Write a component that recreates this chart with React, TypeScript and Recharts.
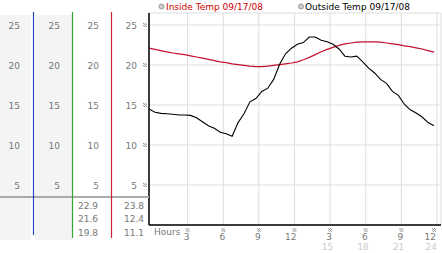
import { LineChart, Line, XAxis, YAxis, CartesianGrid } from 'recharts';

// readings every half hour, first one a bit before midnight
const hours = [
  -0.25, 0.25, 0.75, 1.25, 1.75, 2.25, 2.75, 3.25, 3.75, 4.25, 4.75, 5.25, 5.75, 6.25, 6.75, 7.25, 7.75,
  8.25, 8.75, 9.25, 9.75, 10.25, 10.75, 11.25, 11.75, 12.25, 12.75, 13.25, 13.75, 14.25, 14.75, 15.25,
  15.75, 16.25, 16.75, 17.25, 17.75, 18.25, 18.75, 19.25, 19.75, 20.25, 20.75, 21.25, 21.75, 22.25,
  22.75, 23.25, 23.75,
];
const outsideTemps = [
  14.5, 14.1, 13.95, 13.9, 13.85, 13.75, 13.75, 13.7, 13.4, 12.9, 12.4, 12.1, 11.6, 11.4, 11.1, 12.8, 13.9,
  15.4, 15.8, 16.7, 17.1, 18.2, 20.1, 21.4, 22.1, 22.6, 22.8, 23.5, 23.5, 23.1, 22.9, 22.6,
  22.0, 21.1, 21.0, 21.1, 20.4, 19.6, 19.0, 18.2, 17.7, 16.7, 16.2, 15.1, 14.4, 14.0,
  13.5, 12.8, 12.4,
];
const insideTemps = [
  22.1, 21.95, 21.8, 21.65, 21.5, 21.4, 21.3, 21.15, 21.0, 20.85, 20.7, 20.55, 20.4, 20.3, 20.15, 20.05, 19.95,
  19.85, 19.8, 19.8, 19.85, 19.95, 20.05, 20.15, 20.25, 20.4, 20.65, 20.95, 21.3, 21.65, 21.95, 22.2,
  22.45, 22.65, 22.75, 22.85, 22.9, 22.9, 22.9, 22.85, 22.75, 22.65, 22.55, 22.4, 22.3, 22.15,
  22.0, 21.8, 21.6,
];

const tempTicks = [5, 10, 15, 20, 25];
const hourTicks = [3, 6, 9, 12, 15, 18, 21, 24];
const insideSummary = ['22.9', '21.6', '19.8'];
const outsideSummary = ['23.8', '12.4', '11.1'];
const insideName = 'Inside Temp 09/17/08';
const outsideName = 'Outside Temp 09/17/08';

const data = hours.map((h, i) => ({ h, inside: insideTemps[i], outside: outsideTemps[i] }));

const FONT = 'DejaVu Sans';
const GREY = '#777';
const TEMP_DOMAIN = [0, 26.5];

function Mark({ x, y }: { x: number; y: number }) {
  const dots = [];
  for (let i = 0; i < 4; i++) {
    for (let j = 0; j < 4; j++) {
      if ((i + j) % 2 === 0) dots.push(<rect key={i + '-' + j} x={x + i} y={y + j} width={1} height={1} fill="#999" />);
    }
  }
  return <g>{dots}</g>;
}

const tempTick = (withMark: boolean) => (props: any) => {
  const { x, y, payload } = props;
  return (
    <g>
      <text x={x} y={y} dy={3.5} textAnchor="end" fontFamily={FONT} fontSize={9} fill={GREY}>
        {payload.value}
      </text>
      {withMark && <Mark x={x + 6} y={y - 2} />}
    </g>
  );
};

const hourTick = (props: any) => {
  const { x, y, payload } = props;
  const h = payload.value;
  const clock = h > 12 ? h - 12 : h;
  return (
    <g>
      <Mark x={x - 2} y={y + 3} />
      <text x={x + 2} y={y + 15} textAnchor="end" fontFamily={FONT} fontSize={9} fill={GREY}>
        {clock}
      </text>
      {h > 12 && (
        <text x={x + 3} y={y + 25} textAnchor="end" fontFamily={FONT} fontSize={9} fill="#ccc">
          {h}
        </text>
      )}
    </g>
  );
};

// y axes are laid out by id: "a" sits next to the plot, "d" is the outermost column
export default function App() {
  return (
    <div style={{ position: 'absolute', left: 0, top: 0, width: 442, height: 253, background: '#fff' }}>
      <svg width={442} height={253} style={{ position: 'absolute', left: 0, top: 0 }}>
        <rect x={0} y={15} width={31} height={225} fill="#f4f4f4" />
        <rect x={35} y={15} width={37} height={225} fill="#f4f4f4" />
      </svg>
      <div style={{ position: 'absolute', left: 0, top: 0 }}>
        <LineChart width={442} height={253} data={data} margin={{ top: 13, right: 1, bottom: 0, left: 0 }}>
          <XAxis
            dataKey="h"
            type="number"
            domain={[-0.25, 24.34]}
            ticks={hourTicks}
            height={28}
            tickSize={0}
            tickMargin={0}
            tick={hourTick}
            axisLine={{ stroke: '#000', strokeWidth: 1.5 }}
            allowDataOverflow
          />
          <YAxis yAxisId="a" width={38} domain={TEMP_DOMAIN} ticks={tempTicks} tickSize={0} tickMargin={12} tickLine={false} tick={tempTick(true)} axisLine={{ stroke: '#000', strokeWidth: 1.5 }} />
          <YAxis yAxisId="b" width={39} domain={TEMP_DOMAIN} ticks={tempTicks} tickSize={0} tickMargin={12} tickLine={false} tick={tempTick(false)} axisLine={false} />
          <YAxis yAxisId="c" width={39} domain={TEMP_DOMAIN} ticks={tempTicks} tickSize={0} tickMargin={12} tickLine={false} tick={tempTick(false)} axisLine={false} />
          <YAxis yAxisId="d" width={33} domain={TEMP_DOMAIN} ticks={tempTicks} tickSize={0} tickMargin={13} tickLine={false} tick={tempTick(false)} axisLine={false} />
          <CartesianGrid yAxisId="a" stroke="#ddd" />
          {/* hidden copies so the extra label columns get a scale */}
          <Line yAxisId="b" dataKey="outside" stroke="none" dot={false} activeDot={false} isAnimationActive={false} />
          <Line yAxisId="c" dataKey="inside" stroke="none" dot={false} activeDot={false} isAnimationActive={false} />
          <Line yAxisId="d" dataKey="inside" stroke="none" dot={false} activeDot={false} isAnimationActive={false} />
          <Line yAxisId="a" dataKey="inside" stroke="#c4102c" strokeWidth={1.2} dot={false} isAnimationActive={false} />
          <Line yAxisId="a" dataKey="outside" stroke="#000" strokeWidth={1.1} dot={false} isAnimationActive={false} />
        </LineChart>
      </div>
      <svg width={442} height={253} style={{ position: 'absolute', left: 0, top: 0, pointerEvents: 'none' }}>
        <line x1={0} x2={149} y1={197} y2={197} stroke="#aaa" strokeWidth={2} />
        <line x1={33.5} x2={33.5} y1={12} y2={235} stroke="#2349c4" strokeWidth={1.2} />
        <line x1={72.5} x2={72.5} y1={12} y2={238} stroke="#2ea82e" strokeWidth={1.2} />
        <line x1={111.5} x2={111.5} y1={12} y2={238} stroke="#cc2233" strokeWidth={1.2} />
        {insideSummary.map((v, i) => (
          <text key={'i' + i} x={98} y={208.5 + i * 13.5} textAnchor="end" fontFamily={FONT} fontSize={9} fill={GREY}>{v}</text>
        ))}
        {outsideSummary.map((v, i) => (
          <text key={'o' + i} x={144} y={208.5 + i * 13.5} textAnchor="end" fontFamily={FONT} fontSize={9} fill={GREY}>{v}</text>
        ))}
        <text x={154} y={235} fontFamily={FONT} fontSize={9} fill={GREY}>Hours</text>
        <circle cx={161.5} cy={6.5} r={2.5} fill="#ccc" stroke="#999" />
        <text x={166} y={10} fontFamily={FONT} fontSize={9} fill="#cc0000">{insideName}</text>
        <circle cx={301} cy={6.5} r={2.5} fill="#ccc" stroke="#999" />
        <text x={305} y={10} fontFamily={FONT} fontSize={9} fill="#000">{outsideName}</text>
      </svg>
    </div>
  );
}
